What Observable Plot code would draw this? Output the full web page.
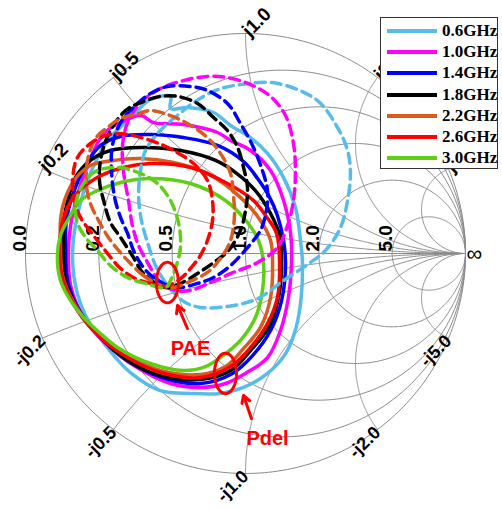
<!DOCTYPE html>
<html><head><meta charset="utf-8">
<script src="https://cdn.jsdelivr.net/npm/d3@7"></script>
<script src="https://cdn.jsdelivr.net/npm/@observablehq/plot@0.6"></script>
<style>
body{margin:0;background:#fff;}
#wrap{position:relative;width:502px;height:508px;overflow:hidden;}
#legend{position:absolute;left:380px;top:17px;width:118px;height:152px;border:1px solid #333;background:#fff;box-sizing:border-box;font:bold 17px "Liberation Serif","Times New Roman",serif;}
.sw{position:absolute;left:6px;width:50px;height:4px;}
.lt{position:absolute;left:61px;height:20px;line-height:20px;white-space:nowrap;color:#000;}
</style></head>
<body><div id="wrap"></div>
<script>
// ---- data ----
const frequencies = ["0.6GHz","1.0GHz","1.4GHz","1.8GHz","2.2GHz","2.6GHz","3.0GHz"];
const seriesColors = ["#56BDEB","#FF00FF","#0000FF","#000000","#D95B1E","#FF0000","#5ECE16"];

// Pdel contours (solid), reflection coefficient [re, im]
const pdel06 = [[-0.786,0.014],[-0.773,-0.145],[-0.727,-0.282],[-0.636,-0.418],[-0.523,-0.541],[-0.386,-0.623],[-0.250,-0.636],[-0.114,-0.636],[-0.009,-0.609],[0.100,-0.545],[0.182,-0.455],[0.230,-0.336],[0.253,-0.200],[0.259,-0.045],[0.250,0.059],[0.227,0.209],[0.173,0.345],[0.100,0.455],[0.023,0.527],[-0.068,0.582],[-0.145,0.641],[-0.264,0.664],[-0.341,0.659],[-0.341,0.714],[-0.432,0.700],[-0.491,0.650],[-0.536,0.605],[-0.627,0.514],[-0.705,0.364],[-0.759,0.195]];
const pdel10 = [[-0.805,0.014],[-0.795,-0.145],[-0.741,-0.282],[-0.636,-0.409],[-0.500,-0.514],[-0.341,-0.591],[-0.205,-0.609],[-0.091,-0.591],[0.000,-0.545],[0.100,-0.473],[0.159,-0.350],[0.195,-0.200],[0.209,-0.045],[0.205,0.091],[0.173,0.241],[0.114,0.377],[0.023,0.468],[-0.068,0.514],[-0.127,0.550],[-0.282,0.586],[-0.418,0.595],[-0.477,0.627],[-0.568,0.595],[-0.645,0.545],[-0.714,0.409],[-0.764,0.264],[-0.795,0.127]];
const pdel14 = [[-0.818,0.036],[-0.809,-0.123],[-0.750,-0.268],[-0.645,-0.395],[-0.523,-0.495],[-0.364,-0.568],[-0.205,-0.591],[-0.059,-0.545],[0.032,-0.464],[0.114,-0.350],[0.164,-0.214],[0.182,-0.045],[0.173,0.059],[0.145,0.173],[0.105,0.264],[0.055,0.341],[-0.009,0.418],[-0.127,0.491],[-0.282,0.527],[-0.432,0.541],[-0.568,0.532],[-0.659,0.491],[-0.727,0.400],[-0.786,0.264],[-0.814,0.150]];
const pdel18 = [[-0.827,0.036],[-0.818,-0.123],[-0.759,-0.259],[-0.659,-0.382],[-0.536,-0.486],[-0.386,-0.555],[-0.205,-0.573],[-0.068,-0.532],[0.023,-0.441],[0.105,-0.336],[0.150,-0.200],[0.164,-0.045],[0.155,0.082],[0.114,0.182],[0.045,0.286],[-0.045,0.368],[-0.136,0.423],[-0.295,0.468],[-0.477,0.482],[-0.614,0.468],[-0.705,0.423],[-0.773,0.345],[-0.814,0.218],[-0.827,0.127]];
const pdel22 = [[-0.841,0.059],[-0.832,-0.100],[-0.773,-0.236],[-0.673,-0.364],[-0.545,-0.455],[-0.386,-0.532],[-0.205,-0.550],[-0.091,-0.514],[-0.009,-0.432],[0.068,-0.336],[0.114,-0.200],[0.123,-0.045],[0.114,0.059],[0.068,0.150],[-0.023,0.255],[-0.173,0.364],[-0.327,0.414],[-0.477,0.432],[-0.600,0.423],[-0.705,0.400],[-0.773,0.341],[-0.823,0.241],[-0.841,0.150]];
const pdel26 = [[-0.845,0.036],[-0.832,-0.109],[-0.764,-0.259],[-0.659,-0.382],[-0.536,-0.473],[-0.386,-0.541],[-0.205,-0.564],[-0.068,-0.514],[0.023,-0.427],[0.100,-0.318],[0.145,-0.200],[0.155,-0.045],[0.141,0.091],[0.091,0.173],[0.036,0.241],[-0.082,0.318],[-0.250,0.391],[-0.432,0.409],[-0.555,0.391],[-0.682,0.341],[-0.782,0.255],[-0.827,0.159]];
const pdel30 = [[-0.855,-0.009],[-0.841,-0.123],[-0.795,-0.214],[-0.736,-0.291],[-0.659,-0.364],[-0.582,-0.427],[-0.432,-0.500],[-0.282,-0.532],[-0.182,-0.514],[-0.114,-0.473],[-0.023,-0.395],[0.045,-0.291],[0.077,-0.168],[0.082,-0.045],[0.059,0.059],[0.009,0.141],[-0.091,0.241],[-0.250,0.318],[-0.432,0.341],[-0.568,0.323],[-0.673,0.286],[-0.750,0.241],[-0.809,0.150],[-0.841,0.082]];

// PAE contours (dashed)
const pae06 = [[-0.327,-0.177],[-0.364,-0.132],[-0.409,-0.055],[-0.441,0.036],[-0.473,0.150],[-0.486,0.264],[-0.477,0.377],[-0.455,0.468],[-0.400,0.545],[-0.364,0.582],[-0.282,0.650],[-0.236,0.686],[-0.136,0.741],[-0.023,0.768],[0.145,0.773],[0.327,0.695],[0.418,0.573],[0.464,0.468],[0.477,0.364],[0.464,0.241],[0.432,0.118],[0.364,0.014],[0.295,-0.041],[0.173,-0.123],[0.055,-0.205],[-0.082,-0.241],[-0.205,-0.245],[-0.273,-0.223]];
const pae10 = [[-0.318,-0.168],[-0.386,-0.132],[-0.445,-0.041],[-0.486,0.036],[-0.514,0.127],[-0.532,0.241],[-0.555,0.377],[-0.559,0.491],[-0.536,0.595],[-0.477,0.686],[-0.386,0.750],[-0.282,0.786],[-0.173,0.805],[-0.082,0.800],[0.023,0.768],[0.114,0.714],[0.182,0.627],[0.218,0.500],[0.227,0.377],[0.218,0.241],[0.191,0.127],[0.145,0.027],[0.055,-0.041],[-0.055,-0.086],[-0.159,-0.132],[-0.250,-0.168]];
const pae14 = [[-0.318,-0.155],[-0.418,-0.109],[-0.464,-0.064],[-0.509,0.014],[-0.536,0.091],[-0.568,0.164],[-0.595,0.255],[-0.609,0.377],[-0.605,0.491],[-0.568,0.595],[-0.500,0.673],[-0.432,0.727],[-0.355,0.759],[-0.250,0.759],[-0.173,0.741],[-0.082,0.682],[-0.023,0.591],[0.032,0.491],[0.077,0.377],[0.100,0.286],[0.095,0.195],[0.068,0.105],[0.009,0.027],[-0.068,-0.055],[-0.145,-0.109],[-0.218,-0.136]];
const pae18 = [[-0.364,-0.155],[-0.464,-0.091],[-0.509,-0.018],[-0.568,0.073],[-0.614,0.141],[-0.645,0.241],[-0.664,0.332],[-0.655,0.445],[-0.614,0.559],[-0.545,0.650],[-0.477,0.686],[-0.386,0.714],[-0.309,0.714],[-0.218,0.682],[-0.145,0.618],[-0.082,0.559],[-0.036,0.482],[-0.009,0.391],[0.009,0.300],[0.000,0.195],[-0.023,0.105],[-0.077,0.014],[-0.145,-0.041],[-0.218,-0.091],[-0.295,-0.136]];
const pae22 = [[-0.386,-0.145],[-0.464,-0.100],[-0.523,-0.045],[-0.577,0.014],[-0.623,0.073],[-0.668,0.150],[-0.705,0.227],[-0.723,0.309],[-0.718,0.423],[-0.682,0.523],[-0.627,0.573],[-0.568,0.614],[-0.486,0.636],[-0.432,0.650],[-0.355,0.632],[-0.264,0.591],[-0.173,0.527],[-0.114,0.455],[-0.068,0.364],[-0.055,0.264],[-0.050,0.173],[-0.068,0.059],[-0.114,-0.023],[-0.173,-0.086],[-0.264,-0.132],[-0.327,-0.155]];
const pae26 = [[-0.364,-0.150],[-0.432,-0.136],[-0.500,-0.114],[-0.568,-0.068],[-0.627,0.000],[-0.691,0.082],[-0.750,0.164],[-0.777,0.241],[-0.786,0.332],[-0.764,0.436],[-0.705,0.500],[-0.636,0.536],[-0.568,0.545],[-0.432,0.514],[-0.327,0.468],[-0.236,0.409],[-0.173,0.332],[-0.150,0.241],[-0.150,0.150],[-0.173,0.059],[-0.205,-0.009],[-0.250,-0.068],[-0.295,-0.114]];
const pae30 = [[-0.364,-0.155],[-0.455,-0.136],[-0.536,-0.109],[-0.614,-0.055],[-0.673,0.014],[-0.727,0.073],[-0.768,0.150],[-0.768,0.241],[-0.736,0.318],[-0.682,0.373],[-0.582,0.391],[-0.477,0.364],[-0.400,0.318],[-0.341,0.241],[-0.305,0.141],[-0.295,0.036],[-0.314,-0.055],[-0.341,-0.123]];

// Smith chart grid values and labels
const resistanceValues = [0, 0.2, 0.5, 1, 2, 5];
const realLabels = ["0.0","0.2","0.5","1.0","2.0","5.0"];
const reactanceValues = [0.2, 0.5, 1, 2, 5];
const posLabels = ["j0.2","j0.5","j1.0","j2.0","j5.0"];
const negLabels = ["-j0.2","-j0.5","-j1.0","-j2.0","-j5.0"];

// annotations (reflection-coefficient positions)
const annotationText = ["PAE","Pdel"];
const annotationTextPos = [[-0.25,-0.432],[0.10,-0.841]];
const ellipseCenters = [[-0.355,-0.132],[-0.091,-0.545]];
const arrowFrom = [[-0.264,-0.341],[0.027,-0.750]];
const arrowTo = [[-0.309,-0.236],[-0.009,-0.645]];

// ---- build ----
function gamma(r, x){ const d=(r+1)*(r+1)+x*x; return [(r*r-1+x*x)/d, 2*x/d]; }
const grid = [];
resistanceValues.forEach((r,i)=>{
  const c=r/(1+r), R=1/(1+r);
  for(let k=0;k<=360;k++){ const t=k/360*2*Math.PI; grid.push({x:c+R*Math.cos(t), y:R*Math.sin(t), id:"r"+i}); }
});
reactanceValues.forEach(v=>[v,-v].forEach(x=>{
  for(let k=0;k<400;k++){ const r=Math.tan(k/400*Math.PI/2); const g=gamma(r,x); grid.push({x:g[0],y:g[1],id:"x"+x}); }
  grid.push({x:1,y:0,id:"x"+x});
}));
grid.push({x:-1,y:0,id:"axis"},{x:1,y:0,id:"axis"});

const realLab = resistanceValues.map((r,i)=>({x:gamma(r,0)[0], y:0, t:realLabels[i]}));
const posLab = reactanceValues.map((v,i)=>{const g=gamma(0,v); return {x:g[0],y:g[1],t:posLabels[i]};});
const negLab = reactanceValues.map((v,i)=>{const g=gamma(0,-v); return {x:g[0],y:g[1],t:negLabels[i]};});

const toRows = (list)=>list.flatMap((pts,i)=>pts.map(p=>({x:p[0],y:p[1],freq:frequencies[i]})));
const pdelRows = toRows([pdel06,pdel10,pdel14,pdel18,pdel22,pdel26,pdel30]);
const paeRows = toRows([pae06,pae10,pae14,pae18,pae22,pae26,pae30]);

const ell = [];
ellipseCenters.forEach((c,i)=>{ for(let k=0;k<=72;k++){const t=k/72*2*Math.PI; ell.push({x:c[0]+0.05*Math.cos(t), y:c[1]+0.092*Math.sin(t), id:i});} });
const arrows = arrowFrom.map((a,i)=>({x1:a[0],y1:a[1],x2:arrowTo[i][0],y2:arrowTo[i][1]}));
const annText = annotationText.map((t,i)=>({x:annotationTextPos[i][0], y:annotationTextPos[i][1], t}));

const labFont = "Liberation Sans, Arial, Helvetica, sans-serif";
const cx=245, cy=253, R=220, W=502, H=508;

const chart = Plot.plot({
  width: W, height: H, margin: 0,
  x: {domain: [-cx/R, (W-cx)/R], axis: null},
  y: {domain: [-(H-cy)/R, cy/R], axis: null},
  color: {domain: frequencies, range: seriesColors},
  marks: [
    Plot.line(grid, {x:"x", y:"y", z:"id", stroke:"#8a8a8a", strokeWidth:1}),
    Plot.text(realLab, {x:"x", y:"y", text:"t", rotate:-90, textAnchor:"start", lineAnchor:"bottom", dy:-2, fontSize:19, fontWeight:"bold", fontFamily:labFont, fill:"#000"}),
    Plot.text(posLab, {x:"x", y:"y", text:"t", rotate:-45, textAnchor:"start", lineAnchor:"middle", fontSize:19, fontWeight:"bold", fontFamily:labFont, fill:"#000"}),
    Plot.text(negLab, {x:"x", y:"y", text:"t", rotate:-45, textAnchor:"end", lineAnchor:"middle", dx:0, dy:0, fontSize:18, fontWeight:"bold", fontFamily:labFont, fill:"#000"}),
    Plot.text([{x:1,y:0}], {x:"x", y:"y", text:()=>"∞", textAnchor:"start", lineAnchor:"middle", dx:1, fontSize:22, fontFamily:labFont, fill:"#000"}),
    Plot.line(pdelRows, {x:"x", y:"y", z:"freq", stroke:"freq", strokeWidth:3.5, curve:"catmull-rom-closed", strokeLinejoin:"round"}),
    Plot.line(paeRows, {x:"x", y:"y", z:"freq", stroke:"freq", strokeWidth:3.5, curve:"catmull-rom-closed", strokeDasharray:"10,6"}),
    Plot.line(ell, {x:"x", y:"y", z:"id", stroke:"#FF0000", strokeWidth:3, curve:"linear-closed"}),
    Plot.arrow(arrows, {x1:"x1", y1:"y1", x2:"x2", y2:"y2", stroke:"#FF0000", strokeWidth:3, headLength:12}),
    Plot.text(annText, {x:"x", y:"y", text:"t", fontSize:20, fontWeight:"bold", fontFamily:labFont, fill:"#FF0000"})
  ]
});
const wrap = document.getElementById("wrap");
wrap.appendChild(chart);

const leg = document.createElement("div");
leg.id = "legend";
frequencies.forEach((f,i)=>{
  const yc = 13 + i*21.17;
  const sw = document.createElement("div"); sw.className="sw"; sw.style.top=(yc-2)+"px"; sw.style.background=seriesColors[i]; leg.appendChild(sw);
  const t = document.createElement("div"); t.className="lt"; t.style.top=(yc-10)+"px"; t.textContent=f; leg.appendChild(t);
});
wrap.appendChild(leg);
</script></body></html>
